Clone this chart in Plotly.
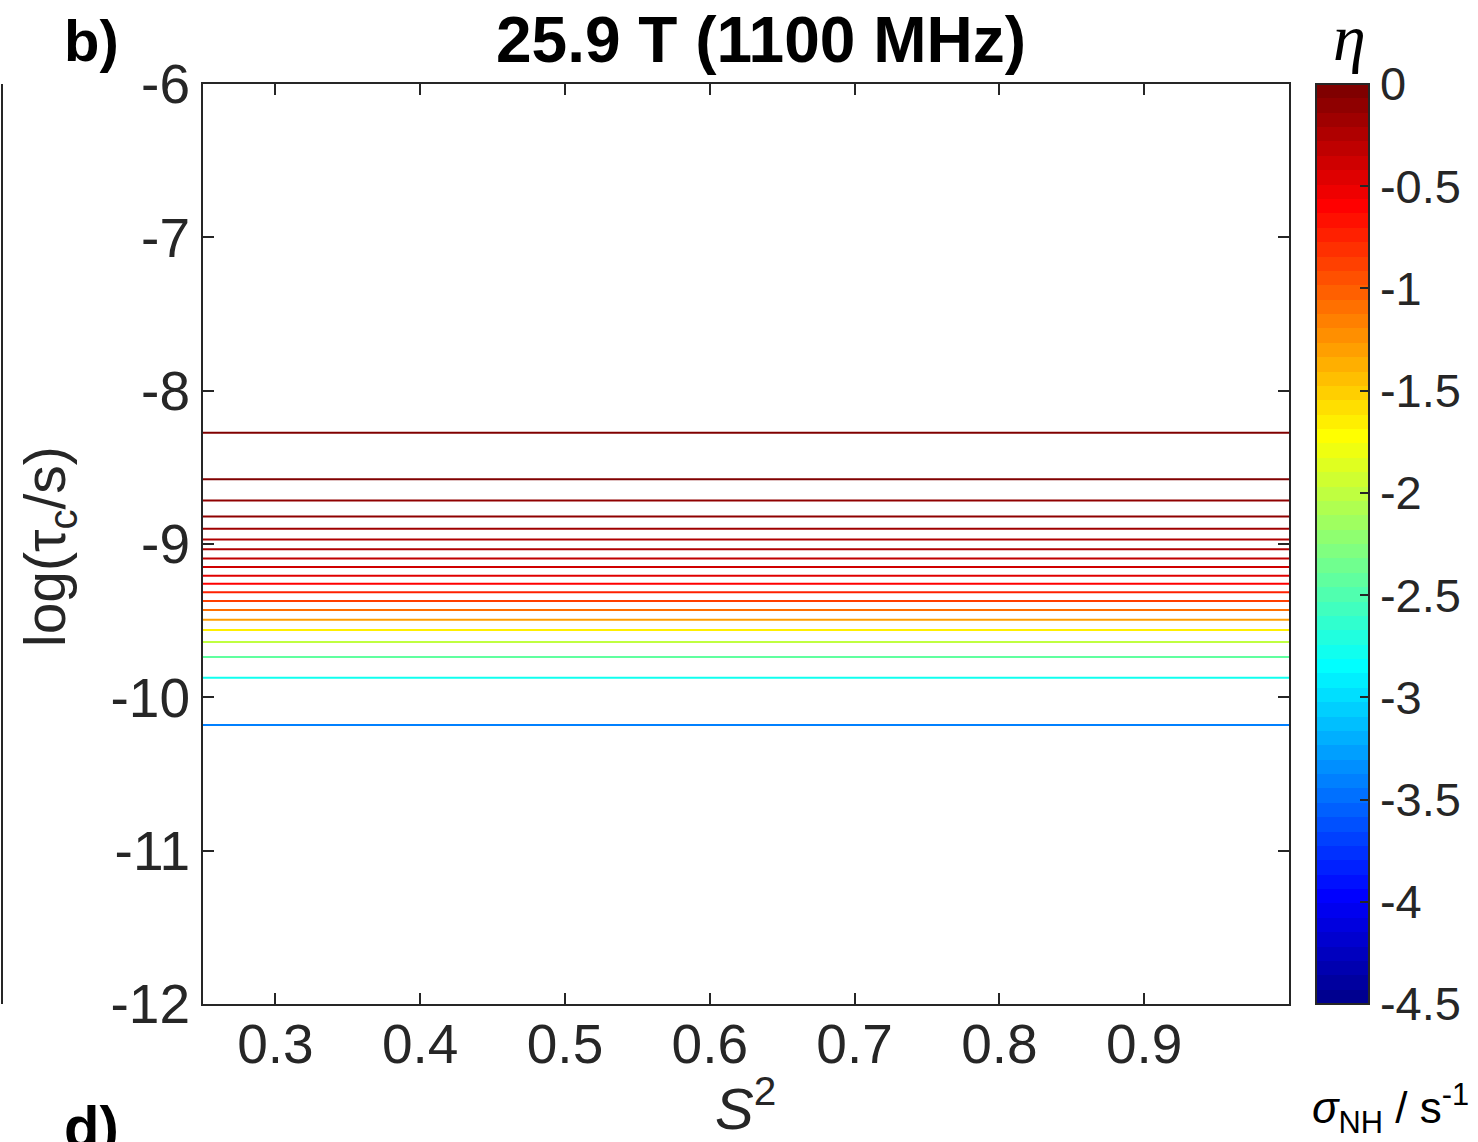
import numpy as np
import plotly.graph_objects as go

# ---------------- data ----------------
S2 = [0.25, 1.0]  # S^2 extent of each contour line
log_tau_c = [-8.274, -8.578, -8.717, -8.820, -8.900, -8.970, -9.035, -9.094,
             -9.150, -9.207, -9.259, -9.315, -9.372, -9.430, -9.494, -9.561,
             -9.639, -9.737, -9.872, -10.180]
eta_levels = [-0.03, -0.06, -0.11, -0.14, -0.18, -0.22, -0.27, -0.32,
              -0.37, -0.44, -0.60, -0.75, -0.88, -1.12, -1.32, -1.62,
              -2.00, -2.40, -2.81, -3.38]
cb_ticks = [0, -0.5, -1, -1.5, -2, -2.5, -3, -3.5, -4, -4.5]
x_ticks = [0.3, 0.4, 0.5, 0.6, 0.7, 0.8, 0.9]
y_ticks = [-6, -7, -8, -9, -10, -11, -12]
CMIN, CMAX = -4.5, 0.0

# ---------------- MATLAB jet(64) ----------------
def jet(m=64):
    n = int(np.ceil(m / 4))
    u = np.concatenate([np.arange(1, n + 1) / n, np.ones(n - 1), np.arange(n, 0, -1) / n])
    g = int(np.ceil(n / 2)) - (1 if m % 4 == 1 else 0) + np.arange(1, len(u) + 1)
    r = g + n
    b = g - n
    J = np.zeros((m, 3))
    for col, idx in ((0, r), (1, g), (2, b)):
        ok = (idx >= 1) & (idx <= m)
        J[idx[ok] - 1, col] = u[ok]
    return J

J = jet(64)
def rgb(c):
    return "rgb(%d,%d,%d)" % tuple(int(round(v * 255)) for v in c)

colorscale = []
for i in range(64):
    colorscale.append([i / 64, rgb(J[i])])
    colorscale.append([(i + 1) / 64, rgb(J[i])])

def level_color(v):
    idx = int(np.floor((v - CMIN) / (CMAX - CMIN) * 64))
    idx = min(max(idx, 0), 63)
    return rgb(J[idx])

# ---------------- geometry helpers ----------------
W, H = 1478, 1142
L, R, T, B = 203, 1289, 84, 1004
def px(x):
    return (x - L) / (R - L)
def py(y):
    return (B - y) / (B - T)

AX = "#262626"
FONT = "Liberation Sans, Arial, Helvetica, sans-serif"

fig = go.Figure()
for yv, ev in zip(log_tau_c, eta_levels):
    fig.add_trace(go.Scatter(x=S2, y=[yv, yv], mode="lines",
                             line=dict(color=level_color(ev), width=2),
                             showlegend=False, hoverinfo="skip"))

# colorbar carrier
fig.add_trace(go.Scatter(
    x=[None], y=[None], mode="markers", showlegend=False,
    marker=dict(color=[CMIN], colorscale=colorscale, cmin=CMIN, cmax=CMAX,
                showscale=True,
                colorbar=dict(
                    x=px(1316), xanchor="left", y=0.5, yanchor="middle",
                    len=1, lenmode="fraction", thickness=53, thicknessmode="pixels",
                    outlinewidth=2, outlinecolor=AX,
                    tickmode="array", tickvals=cb_ticks,
                    ticktext=[("%g" % t) for t in cb_ticks],
                    ticks="inside", ticklen=10, tickwidth=2, tickcolor=AX,
                    tickfont=dict(family=FONT, size=47, color=AX),
                    ypad=0, xpad=0,
                ))))

fig.update_xaxes(range=[0.25, 1.0], tickvals=x_ticks,
                 ticktext=["%g" % t for t in x_ticks],
                 ticks="inside", ticklen=11, tickwidth=2, tickcolor=AX,
                 showline=True, linewidth=2, linecolor=AX, mirror="ticks",
                 showgrid=False, zeroline=False, ticklabelstandoff=-9,
                 tickfont=dict(family=FONT, size=55, color=AX))
fig.update_yaxes(range=[-12, -6], tickvals=y_ticks,
                 ticktext=["%g" % t for t in y_ticks],
                 ticks="inside", ticklen=11, tickwidth=2, tickcolor=AX,
                 showline=True, linewidth=2, linecolor=AX, mirror="ticks",
                 showgrid=False, zeroline=False,
                 tickfont=dict(family=FONT, size=55, color=AX))

ann = []
ann.append(dict(text="<b>25.9 T (1100 MHz)</b>", x=px(761), y=py(40),
                font=dict(family=FONT, size=64, color="black")))
ann.append(dict(text="<b>b)</b>", x=px(91), y=py(40),
                font=dict(family=FONT, size=58, color="black")))
ann.append(dict(text="<b>d)</b>", x=px(91), y=py(1126),
                font=dict(family=FONT, size=58, color="black")))
ann.append(dict(text="log(τ<sub>c</sub>/s)", x=px(49), y=py(547), textangle=-90,
                font=dict(family=FONT, size=57, color=AX)))
ann.append(dict(text="<i>S</i><sup>2</sup>", x=px(745), y=py(1104),
                font=dict(family=FONT, size=58, color=AX)))
ann.append(dict(text="<i>η</i>", x=px(1349), y=py(38),
                font=dict(family="Liberation Serif, DejaVu Serif, serif", size=66, color="black")))
ann.append(dict(text="<i>σ</i><sub>NH</sub> / s<sup>-1</sup>", x=px(1390), y=py(1108),
                font=dict(family=FONT, size=44, color="black")))
for a in ann:
    a.update(xref="paper", yref="paper", showarrow=False,
             xanchor="center", yanchor="middle")
fig.update_layout(annotations=ann)

# fragment of neighbouring panel's axis at left edge
fig.add_shape(type="line", xref="paper", yref="paper",
              x0=px(2), x1=px(2), y0=0, y1=1, line=dict(color=AX, width=2))

fig.update_layout(width=W, height=H,
                  margin=dict(l=L, r=W - R, t=T, b=H - B, pad=0, autoexpand=False),
                  paper_bgcolor="white", plot_bgcolor="white",
                  font=dict(family=FONT, color=AX))

fig.write_html("out.html", config={"displayModeBar": False},
               post_script="document.body.style.margin='0px';document.body.style.overflow='hidden';")
